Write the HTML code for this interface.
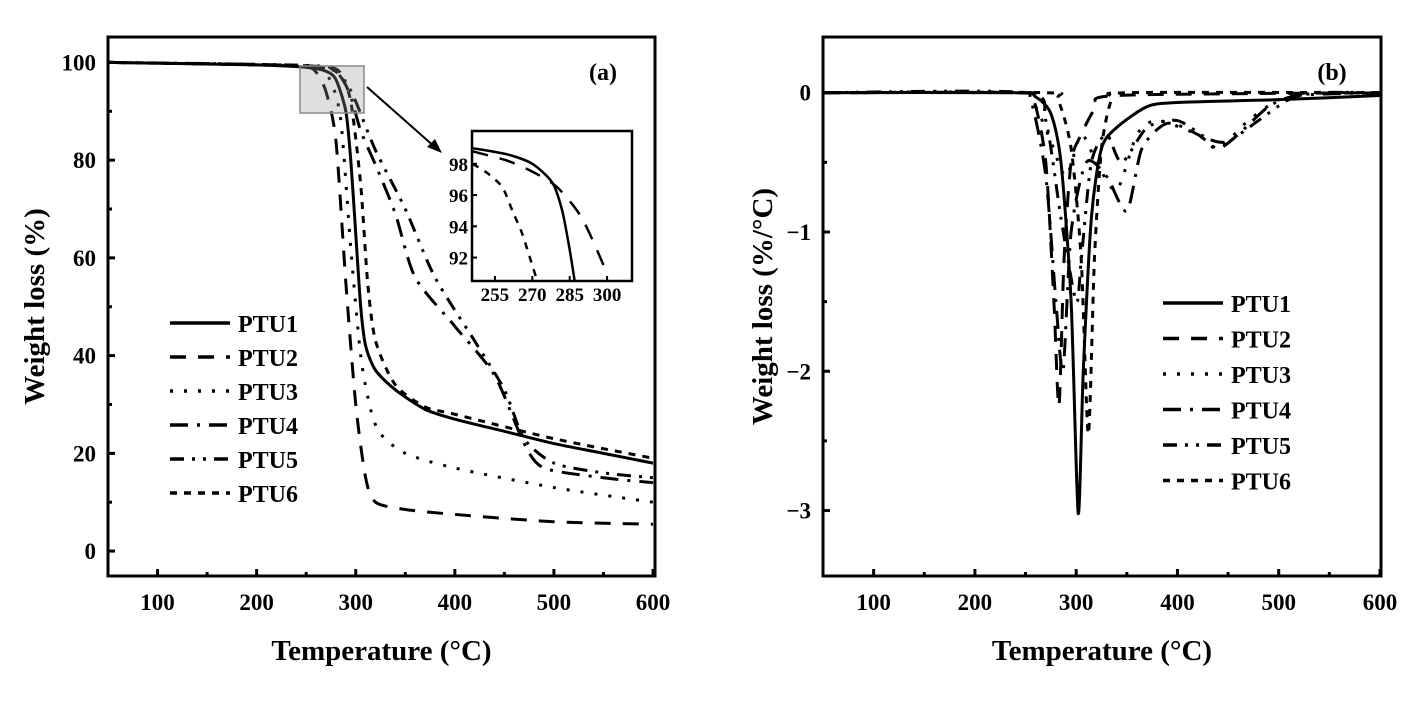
<!DOCTYPE html>
<html><head><meta charset="utf-8"><style>
body{margin:0;background:#fff}
svg{display:block;font-family:"Liberation Serif",serif;font-weight:bold}
</style></head><body>
<svg id="c" width="1420" height="704" viewBox="0 0 1420 704"></svg>
<script>
const NS="http://www.w3.org/2000/svg";
const svg=document.getElementById('c');
// ---------- data ----------
const seriesNames=["PTU1","PTU2","PTU3","PTU4","PTU5","PTU6"];
const tgaPTU1=[[50,100],[200,99.5],[250,99],[270,98.2],[280,96.5],[290,90],[295,80],[300,65],[305,50],[310,42],[320,37],[340,33],[370,29],[400,27],[450,24.5],[500,22],[550,20],[600,18]];
const tgaPTU2=[[50,100],[200,99.5],[250,99],[260,98],[270,94],[280,84],[290,55],[300,30],[310,15],[320,10],[350,8.5],[400,7.5],[500,6],[600,5.5]];
const tgaPTU3=[[50,100],[200,99.5],[260,98.8],[275,96],[285,88],[295,62],[305,40],[315,29],[325,24],[350,20],[400,17],[500,13],[600,10]];
const tgaPTU4=[[50,100],[200,99.6],[270,99],[285,97],[295,93],[305,86],[320,79],[340,69],[360,56],[400,46],[440,36],[470,22],[490,17],[550,15],[600,14]];
const tgaPTU5=[[50,100],[200,99.6],[275,99],[290,96],[300,92],[320,82],[350,70],[380,56],[420,43],[450,33],[470,23],[500,18],[550,16],[600,15]];
const tgaPTU6=[[50,100],[200,99.5],[270,98.8],[285,97],[295,92],[305,75],[312,55],[320,43],[340,34],[370,29.5],[400,28],[500,23],[600,19]];
const dtgPTU1=[[50,0],[240,0],[260,-0.03],[275,-0.15],[285,-0.5],[295,-1.5],[302,-3.02],[307,-2],[315,-0.9],[325,-0.4],[340,-0.25],[370,-0.1],[400,-0.07],[500,-0.05],[600,-0.02]];
const dtgPTU2=[[50,0],[245,0],[258,-0.05],[270,-0.5],[278,-1.5],[283,-2.25],[288,-1.2],[295,-0.5],[305,-0.3],[320,-0.1],[340,-0.02],[600,0]];
const dtgPTU3=[[50,0],[245,0],[260,-0.1],[275,-0.35],[290,-0.6],[305,-0.3],[320,-0.5],[340,-0.7],[360,-0.3],[380,-0.2],[420,-0.3],[440,-0.4],[470,-0.2],[500,-0.05],[530,0],[600,0]];
const dtgPTU4=[[50,0],[240,0],[255,-0.05],[270,-0.6],[280,-1.5],[287,-2.0],[295,-1],[310,-0.5],[330,-0.6],[350,-0.85],[365,-0.4],[390,-0.22],[420,-0.3],[440,-0.4],[460,-0.3],[490,-0.1],[520,-0.02],[600,0]];
const dtgPTU5=[[50,0],[250,0],[270,-0.2],[285,-0.9],[300,-1.5],[305,-1.2],[315,-0.5],[330,-0.3],[345,-0.5],[370,-0.25],[400,-0.2],[430,-0.33],[450,-0.35],[480,-0.2],[510,-0.05],[540,0],[600,0]];
const dtgPTU6=[[50,0],[270,0],[282,-0.05],[295,-0.4],[305,-1.2],[312,-2.45],[318,-1.2],[325,-0.4],[335,-0.05],[350,0],[600,0]];
const insetPTU1=[[246,99],[260,98.6],[270,98],[278,96.8],[282,95],[285,92.5],[287,90.5]];
const insetPTU2=[[246,98.8],[260,98.2],[270,97.5],[280,96.5],[290,94.5],[300,91]];
const insetPTU6=[[246,98],[252,97.4],[258,96.5],[262,95],[266,93.5],[270,91.5],[272,90.5]];
const xTicks=[100,200,300,400,500,600];
const tgaYTicks=[0,20,40,60,80,100];
const dtgYTicks=[0,-1,-2,-3];
const insetXTicks=[255,270,285,300];
const insetYTicks=[92,94,96,98];
const dashes=["","16 12","3 11","18 9 3 9","14 8 3 8 3 8","7 7"];

function el(tag,attrs,parent){const e=document.createElementNS(NS,tag);for(const k in attrs)e.setAttribute(k,attrs[k]);(parent||svg).appendChild(e);return e;}
function pathD(pts,sx,sy){
  const p=pts.map(q=>[sx(q[0]),sy(q[1])]);
  let d="M"+p[0][0]+","+p[0][1];
  const k=1/8;
  for(let i=0;i<p.length-1;i++){
    const p0=p[Math.max(0,i-1)],p1=p[i],p2=p[i+1],p3=p[Math.min(p.length-1,i+2)];
    const c1=[p1[0]+(p2[0]-p0[0])*k,p1[1]+(p2[1]-p0[1])*k],c2=[p2[0]-(p3[0]-p1[0])*k,p2[1]-(p3[1]-p1[1])*k];
    d+=`C${c1[0]},${c1[1]} ${c2[0]},${c2[1]} ${p2[0]},${p2[1]}`;
  }
  return d;
}
function text(x,y,s,size,anchor,name,extra){const t=el('text',Object.assign({x:x,y:y,'font-size':size,'text-anchor':anchor||'middle'},extra||{}));t.textContent=s;return t;}

function panel(o){
  const sx=v=>o.x0+(v-o.xmin)/(o.xmax-o.xmin)*(o.x1-o.x0);
  const sy=v=>o.y1-(v-o.ymin)/(o.ymax-o.ymin)*(o.y1-o.y0);
  const g=el('g',{});
  
  
  const clipId=o.name+'-clip';
  const cp=el('clipPath',{id:clipId},g);el('rect',{x:o.x0,y:o.y0,width:o.x1-o.x0,height:o.y1-o.y0},cp);
  const lines=el('g',{'clip-path':`url(#${clipId})`},g);
  o.series.forEach((s,i)=>{
    const p=el('path',{d:pathD(s,sx,sy),fill:'none',stroke:'#000','stroke-width':3,'stroke-dasharray':dashes[i],'stroke-linejoin':'round'},lines);
    
    
  });
  const box=el('rect',{x:o.x0,y:o.y0,width:o.x1-o.x0,height:o.y1-o.y0,fill:'none',stroke:'#000','stroke-width':3},g);
  
  
  o.xt.forEach(v=>{el('line',{x1:sx(v),x2:sx(v),y1:o.y1,y2:o.y1-7,stroke:'#000','stroke-width':3},g);
    el('line',{x1:sx(v-50),x2:sx(v-50),y1:o.y1,y2:o.y1-4,stroke:'#000','stroke-width':3},g);
    text(sx(v),o.y1+34,String(v),23,'middle','x-tick-label');});
  o.yt.forEach(v=>{el('line',{x1:o.x0,x2:o.x0+7,y1:sy(v),y2:sy(v),stroke:'#000','stroke-width':3},g);
    const m=v+o.ystep/2;
    if(m<o.ymax) el('line',{x1:o.x0,x2:o.x0+4,y1:sy(m),y2:sy(m),stroke:'#000','stroke-width':3},g);
    text(o.x0-12,sy(v)+8,String(v).replace('-','\u2212'),23,'end','y-tick-label');});
  text((o.x0+o.x1)/2,o.y1+84,'Temperature (\u00B0C)',29,'middle','x-axis-title');
  text(o.ylx,(o.y0+o.y1)/2,o.ylabel,29,'middle','y-axis-title',{transform:`rotate(-90 ${o.ylx} ${(o.y0+o.y1)/2})`});
  text(o.tagx,80,o.tag,24,'middle','panel-label');
  o.series.forEach((s,i)=>{
    const y=o.ly+i*o.lgap;
    const l=el('line',{x1:o.lx,x2:o.lx+60,y1:y,y2:y,stroke:'#000','stroke-width':3.5,'stroke-dasharray':dashes[i]},g);
    
    
    text(o.lx+68,y+9,seriesNames[i],24,'start','legend-entry');
  });
  return {sx,sy};
}
panel({name:'tga-panel',x0:108,x1:655,y0:37,y1:576,xmin:50,xmax:602,ymin:-5.1,ymax:105.2,xt:xTicks,yt:tgaYTicks,ystep:20,
  series:[tgaPTU1,tgaPTU2,tgaPTU3,tgaPTU4,tgaPTU5,tgaPTU6],ylabel:'Weight loss (%)',ylx:44,tag:'(a)',tagx:603,lx:170,ly:323,lgap:34});
panel({name:'dtg-panel',x0:823,x1:1381,y0:37,y1:576,xmin:50,xmax:601,ymin:-3.47,ymax:0.4,xt:xTicks,yt:dtgYTicks,ystep:1,
  series:[dtgPTU1,dtgPTU2,dtgPTU3,dtgPTU4,dtgPTU5,dtgPTU6],ylabel:'Weight loss (%/\u00B0C)',ylx:772,tag:'(b)',tagx:1332,lx:1163,ly:303,lgap:35.5});
const zb=el('rect',{x:300,y:66,width:64,height:47,fill:'rgba(150,150,150,0.3)',stroke:'#888','stroke-width':1.5});


const ar=el('line',{x1:367,y1:87,x2:436,y2:148,stroke:'#000','stroke-width':2});


const ah=el('polygon',{points:'442,153 427,147 435,139',fill:'#000'});


(function(){
  const x0=472,x1=632,y0=131,y1=281,xmin=245.8,xmax=310,ymin=90.5,ymax=100.1;
  const sx=v=>x0+(v-xmin)/(xmax-xmin)*(x1-x0), sy=v=>y1-(v-ymin)/(ymax-ymin)*(y1-y0);
  const g=el('g',{});
  
  
  el('rect',{x:x0,y:y0,width:x1-x0,height:y1-y0,fill:'#fff'},g);
  const cp=el('clipPath',{id:'inclip'},g);el('rect',{x:x0,y:y0,width:x1-x0,height:y1-y0},cp);
  const lg=el('g',{'clip-path':'url(#inclip)'},g);
  [[insetPTU1,0],[insetPTU2,1],[insetPTU6,5]].forEach(a=>{
    const p=el('path',{d:pathD(a[0],sx,sy),fill:'none',stroke:'#000','stroke-width':2.5,'stroke-dasharray':dashes[a[1]]},lg);
    
    
  });
  el('rect',{x:x0,y:y0,width:x1-x0,height:y1-y0,fill:'none',stroke:'#000','stroke-width':2.5},g);
  insetXTicks.forEach(v=>{el('line',{x1:sx(v),x2:sx(v),y1:y1,y2:y1-5,stroke:'#000','stroke-width':2},g);text(sx(v),y1+20,String(v),19,'middle','inset-x-tick-label');});
  insetYTicks.forEach(v=>{el('line',{x1:x0,x2:x0+5,y1:sy(v),y2:sy(v),stroke:'#000','stroke-width':2},g);text(x0-4,sy(v)+7,String(v),19,'end','inset-y-tick-label');});
})();
</script>
</body></html>
